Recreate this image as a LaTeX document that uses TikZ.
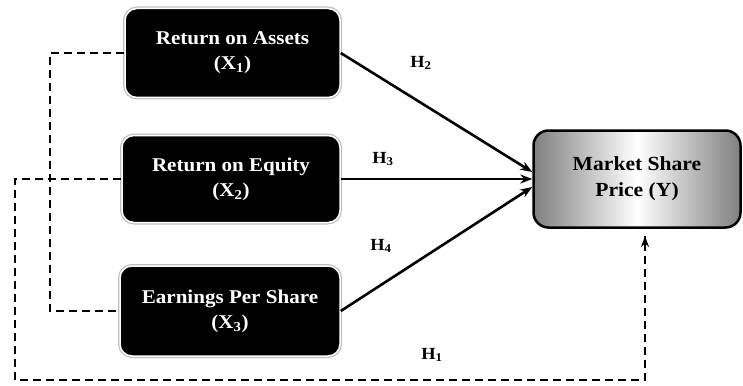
\documentclass[tikz,border=0pt]{standalone}
\usepackage{fontspec}
\setmainfont{Liberation Serif}[FakeStretch=1.08]
\usetikzlibrary{arrows.meta,calc}
\begin{document}
\begin{tikzpicture}[x=1pt,y=-1pt,
  varbox/.style={rectangle, rounded corners=12pt, fill=black, text=white,
    draw=white, line width=1.5pt, preaction={draw=black!25, line width=4pt},
    align=center, font=\fontsize{19.5}{25}\selectfont\bfseries, inner sep=0pt},
  depbox/.style={rectangle, rounded corners=15pt, draw=black, line width=2.5pt,
    left color=black!50, right color=black!50, middle color=white,
    align=center, font=\fontsize{20}{26}\selectfont\bfseries, inner sep=0pt,
    minimum width=207pt, minimum height=97pt},
  hlab/.style={font=\fontsize{17}{20}\selectfont\bfseries},
  link/.style={line width=2.6pt, -{Stealth[length=12pt,width=9pt]}},
  dlink/.style={line width=2.8pt, dash pattern=on 8pt off 5pt}
]
\useasboundingbox (0,0) rectangle (743,385);
\node[varbox, minimum width=215pt, minimum height=89pt] (X1) at (232.5,53) {Return on Assets\\(X\textsubscript{1})};
\node[varbox, minimum width=218pt, minimum height=87pt] (X2) at (231,179) {Return on Equity\\(X\textsubscript{2})};
\node[varbox, minimum width=220pt, minimum height=90pt] (X3) at (230,311) {Earnings Per Share\\(X\textsubscript{3})};
\node[depbox] (Y) at (637,179) {Market Share\\Price (Y)};

\node[hlab] (h2) at (421,63) {H\textsubscript{2}};
\node[hlab] (h3) at (383,159) {H\textsubscript{3}};
\node[hlab] (h4) at (381,246) {H\textsubscript{4}};
\node[hlab] (h1) at (432,355) {H\textsubscript{1}};

\draw[link] (X1.east) -- ($(Y.west)+(0,-7)$);
\draw[link] (X2.east) -- (Y.west);
\draw[link] (X3.east) -- ($(Y.west)+(0,8)$);

\coordinate (c1) at (50,55);
\draw[dlink] (X1.west) -| (c1) |- (X3.west);
\coordinate (c2) at (15,380);
\coordinate (yin) at (645,236);
\draw[dlink] (X2.west) -| (c2) -| (yin);
\draw[line width=2.6pt, -{Stealth[length=11pt,width=8pt]}] ($(yin)+(0,6)$) -- (yin);
\end{tikzpicture}
\end{document}
